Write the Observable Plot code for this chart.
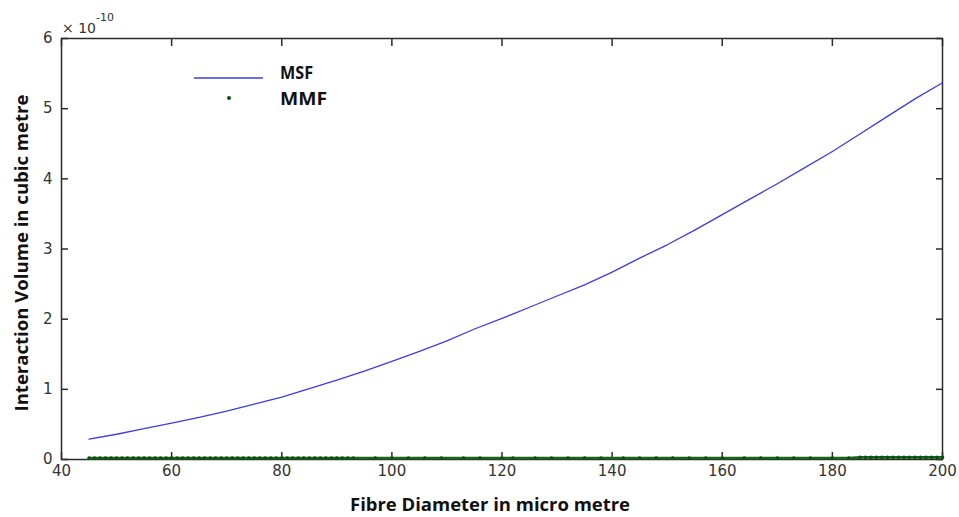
<!DOCTYPE html>
<html>
<head>
<meta charset="utf-8">
<script src="https://cdn.jsdelivr.net/npm/d3@7"></script>
<script src="https://cdn.jsdelivr.net/npm/@observablehq/plot@0.6"></script>
<style>
  html, body { margin: 0; padding: 0; background: #fff; }
  #chart { width: 959px; height: 517px; }
</style>
</head>
<body>
<div id="chart"></div>
<script>
// Fibre diameter (µm) and interaction volume (×1e-10 m³) for the MSF curve
const msfDiameter = [45, 50, 55, 60, 65, 70, 75, 80, 85, 90, 95, 100, 105, 110, 115, 120,
  125, 130, 135, 140, 145, 150, 155, 160, 165, 170, 175, 180, 185, 190, 195, 200];
const msfVolume = [0.29, 0.36, 0.44, 0.52, 0.60, 0.69, 0.79, 0.89, 1.01, 1.13, 1.26, 1.40,
  1.54, 1.69, 1.86, 2.01, 2.17, 2.33, 2.49, 2.67, 2.87, 3.06, 3.27, 3.49, 3.71, 3.93,
  4.16, 4.39, 4.64, 4.89, 5.14, 5.37];

// MMF samples: diameters (µm) and volumes (×1e-10 m³), all close to zero
const mmfDiameter = [45, 46, 47, 48, 49, 50, 51, 52, 53, 54, 55, 56, 57, 58, 59, 60, 61, 62,
  63, 64, 65, 66, 67, 68, 69, 70, 71, 72, 73, 74, 75, 76, 77, 78, 79, 80, 81, 82, 83, 84,
  85, 86, 87, 88, 89, 90, 91, 92, 93, 97, 100, 103, 106, 109, 113, 116, 120, 122, 126, 129,
  132, 135, 138, 142, 145, 148, 151, 154, 157, 160, 164, 167, 170, 173, 176, 180, 183,
  185, 186, 187, 188, 189, 190, 191, 192, 193, 194, 195, 196, 197, 198, 199, 200];
const mmfVolume = [0.02, 0.02, 0.02, 0.02, 0.02, 0.02, 0.02, 0.02, 0.02, 0.02, 0.02, 0.02,
  0.02, 0.02, 0.02, 0.02, 0.02, 0.02, 0.02, 0.02, 0.02, 0.02, 0.02, 0.02, 0.02, 0.02, 0.02,
  0.02, 0.02, 0.02, 0.02, 0.02, 0.02, 0.02, 0.02, 0.02, 0.02, 0.02, 0.02, 0.02, 0.02, 0.02,
  0.02, 0.02, 0.02, 0.02, 0.02, 0.02, 0.02, 0.02, 0.02, 0.02, 0.02, 0.02, 0.02, 0.02, 0.02,
  0.02, 0.02, 0.02, 0.02, 0.02, 0.02, 0.02, 0.02, 0.02, 0.02, 0.02, 0.02, 0.02, 0.02, 0.02,
  0.02, 0.02, 0.02, 0.02, 0.02, 0.03, 0.03, 0.03, 0.03, 0.03, 0.03, 0.03, 0.03, 0.03, 0.03,
  0.03, 0.03, 0.03, 0.03, 0.03, 0.03];

const xTicks = [40, 60, 80, 100, 120, 140, 160, 180, 200];
const yTicks = [0, 1, 2, 3, 4, 5, 6];

const seriesNames = ["MSF", "MMF"];
const xTitle = "Fibre Diameter in micro metre";
const yTitle = "Interaction Volume in cubic metre";

const msf = msfDiameter.map((d, i) => ({d, v: msfVolume[i]}));
const mmf = mmfDiameter.map((d, i) => ({d, v: mmfVolume[i]}));

const blue = "#3d3de0";
const green = "#14661a";
const axisColor = "#2b2b2b";

const chart = Plot.plot({
  width: 959,
  height: 517,
  marginLeft: 61,
  marginRight: 17,
  marginTop: 38,
  marginBottom: 58,
  x: {domain: [40, 200]},
  y: {domain: [0, 6]},
  style: {fontFamily: "DejaVu Sans", fontSize: "15px", color: "#333", background: "#fff"},
  marks: [
    // inward ticks on all four sides
    Plot.axisX(xTicks, {anchor: "bottom", tickSize: -7, tickFormat: () => "", label: null, stroke: axisColor, strokeWidth: 1.5}),
    Plot.axisX(xTicks, {anchor: "top", tickSize: -7, tickFormat: () => "", label: null, stroke: axisColor, strokeWidth: 1.5}),
    Plot.axisY(yTicks, {anchor: "left", tickSize: -7, tickFormat: () => "", label: null, stroke: axisColor, strokeWidth: 1.5}),
    Plot.axisY(yTicks, {anchor: "right", tickSize: -7, tickFormat: () => "", label: null, stroke: axisColor, strokeWidth: 1.5}),
    // tick labels
    Plot.axisX(xTicks, {anchor: "bottom", tickSize: 0, tickPadding: 6, label: null, tickFormat: d => String(d), fill: "#333", fontSize: 15, letterSpacing: 1.5}),
    Plot.axisY(yTicks, {anchor: "left", tickSize: 0, tickPadding: 9, label: null, tickFormat: d => String(d), fill: "#333", fontSize: 15}),
    Plot.frame({stroke: axisColor, strokeWidth: 1.5}),
    Plot.line(mmf, {x: "d", y: "v", stroke: green, strokeWidth: 2.6}),
    Plot.dot(mmf, {x: "d", y: "v", r: 1.8, fill: "#0b500f", stroke: "none"}),
    Plot.line(msf, {x: "d", y: "v", stroke: blue, strokeWidth: 1.3})
  ]
});

document.getElementById("chart").appendChild(chart);

const svg = d3.select(chart);
const titleFont = "'Open Sans', 'Liberation Sans', sans-serif";

// exponent note above the y axis
const expo = svg.append("text")
  .attr("x", 62).attr("y", 33)
  .attr("text-anchor", "start")
  .attr("font-family", "DejaVu Sans").attr("font-size", 14).attr("fill", "#333");
expo.append("tspan").text("× 10");
expo.append("tspan").attr("dy", -12).attr("font-size", 11).text("-10");

// axis titles
svg.append("text")
  .attr("x", 490).attr("y", 511)
  .attr("text-anchor", "middle")
  .attr("font-family", titleFont).attr("font-weight", 700).attr("font-size", 18)
  .attr("fill", "#111")
  .attr("textLength", 280).attr("lengthAdjust", "spacingAndGlyphs")
  .text(xTitle);

svg.append("text")
  .attr("transform", "translate(28,253) rotate(-90)")
  .attr("text-anchor", "middle")
  .attr("font-family", titleFont).attr("font-weight", 700).attr("font-size", 18)
  .attr("fill", "#111")
  .attr("textLength", 317).attr("lengthAdjust", "spacingAndGlyphs")
  .text(yTitle);

// legend
const legend = svg.append("g");
legend.append("line")
  .attr("x1", 194).attr("x2", 263).attr("y1", 78).attr("y2", 78)
  .attr("stroke", blue).attr("stroke-width", 1.5);
legend.append("circle")
  .attr("cx", 229).attr("cy", 98).attr("r", 2)
  .attr("fill", "#0b500f");
legend.selectAll("text.lbl").data(seriesNames).join("text")
  .attr("class", "lbl")
  .attr("x", 280)
  .attr("y", (d, i) => i === 0 ? 79 : 105)
  .attr("text-anchor", "start")
  .attr("font-family", titleFont).attr("font-weight", 700).attr("font-size", 18)
  .attr("fill", "#111")
  .attr("textLength", (d, i) => i === 0 ? 33 : 47).attr("lengthAdjust", "spacingAndGlyphs")
  .text(d => d);
</script>
</body>
</html>
